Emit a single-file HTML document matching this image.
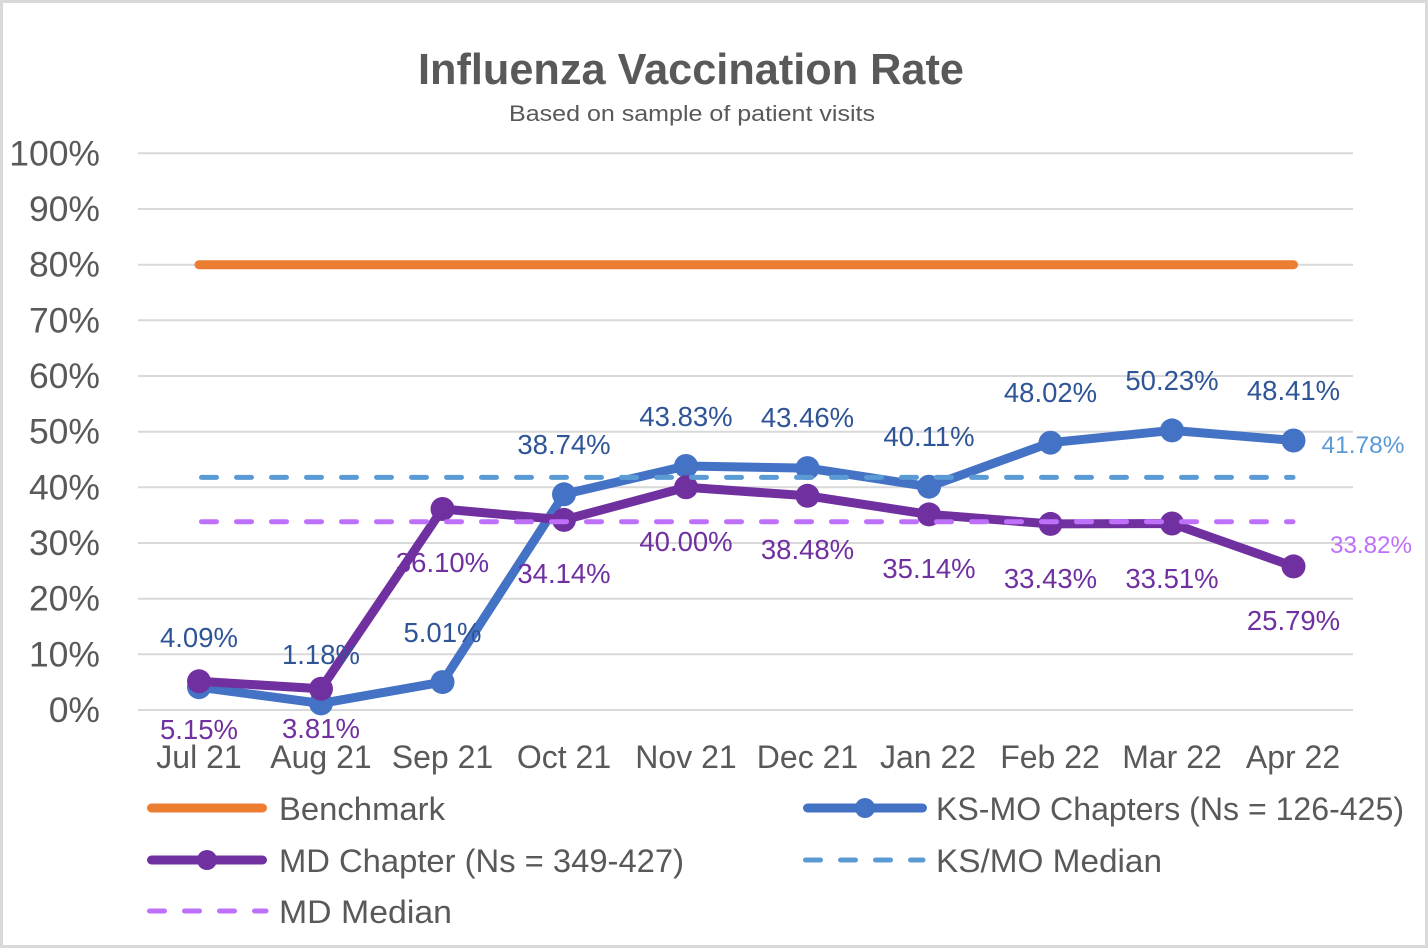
<!DOCTYPE html>
<html>
<head>
<meta charset="utf-8">
<style>
  html,body{margin:0;padding:0;background:#fff;}
  svg{display:block;}
  text{font-family:"Liberation Sans", Arial, sans-serif;}
</style>
</head>
<body>
<svg width="1428" height="948" viewBox="0 0 1428 948" xmlns="http://www.w3.org/2000/svg">
  <rect x="0" y="0" width="1428" height="948" fill="#ffffff"/>
  <rect x="1.5" y="1.5" width="1425" height="945" fill="none" stroke="#D9D9D9" stroke-width="3"/>

  <!-- Title -->
  <text x="691" y="84" text-anchor="middle" font-size="44" font-weight="bold" fill="#595959" textLength="546" lengthAdjust="spacingAndGlyphs">Influenza Vaccination Rate</text>
  <text x="692" y="121" text-anchor="middle" font-size="22" fill="#595959" textLength="366" lengthAdjust="spacingAndGlyphs">Based on sample of patient visits</text>

  <!-- Gridlines -->
  <g stroke="#D9D9D9" stroke-width="2">
    <line x1="138" y1="153.3" x2="1353" y2="153.3"/>
    <line x1="138" y1="209" x2="1353" y2="209"/>
    <line x1="138" y1="264.7" x2="1353" y2="264.7"/>
    <line x1="138" y1="320.3" x2="1353" y2="320.3"/>
    <line x1="138" y1="376" x2="1353" y2="376"/>
    <line x1="138" y1="431.7" x2="1353" y2="431.7"/>
    <line x1="138" y1="487.3" x2="1353" y2="487.3"/>
    <line x1="138" y1="543" x2="1353" y2="543"/>
    <line x1="138" y1="598.7" x2="1353" y2="598.7"/>
    <line x1="138" y1="654.3" x2="1353" y2="654.3"/>
    <line x1="138" y1="710" x2="1353" y2="710"/>
  </g>

  <!-- Y tick labels -->
  <g font-size="35.5" fill="#595959" text-anchor="end">
    <text x="100" y="165.3">100%</text>
    <text x="100" y="221">90%</text>
    <text x="100" y="276.7">80%</text>
    <text x="100" y="332.3">70%</text>
    <text x="100" y="388">60%</text>
    <text x="100" y="443.7">50%</text>
    <text x="100" y="499.3">40%</text>
    <text x="100" y="555">30%</text>
    <text x="100" y="610.7">20%</text>
    <text x="100" y="666.3">10%</text>
    <text x="100" y="722">0%</text>
  </g>

  <!-- X labels -->
  <g font-size="32" fill="#595959" text-anchor="middle">
    <text x="199" y="768">Jul 21</text>
    <text x="321" y="768">Aug 21</text>
    <text x="442.5" y="768">Sep 21</text>
    <text x="564" y="768">Oct 21</text>
    <text x="686" y="768">Nov 21</text>
    <text x="807.5" y="768">Dec 21</text>
    <text x="928" y="768">Jan 22</text>
    <text x="1050" y="768">Feb 22</text>
    <text x="1172" y="768">Mar 22</text>
    <text x="1293" y="768">Apr 22</text>
  </g>

  <!-- Benchmark -->
  <line x1="199" y1="264.7" x2="1293.5" y2="264.7" stroke="#ED7D31" stroke-width="9" stroke-linecap="round"/>

  <!-- KS-MO series -->
  <polyline fill="none" stroke="#4472C4" stroke-width="9" stroke-linejoin="round" stroke-linecap="round"
    points="199,687.2 321,703.4 442.5,682.1 564,494.3 686,466 807.5,468.1 929,486.7 1050.5,442.7 1172,430.4 1293.5,440.5"/>
  <g fill="#4472C4">
    <circle cx="199" cy="687.2" r="12"/>
    <circle cx="321" cy="703.4" r="12"/>
    <circle cx="442.5" cy="682.1" r="12"/>
    <circle cx="564" cy="494.3" r="12"/>
    <circle cx="686" cy="466" r="12"/>
    <circle cx="807.5" cy="468.1" r="12"/>
    <circle cx="929" cy="486.7" r="12"/>
    <circle cx="1050.5" cy="442.7" r="12"/>
    <circle cx="1172" cy="430.4" r="12"/>
    <circle cx="1293.5" cy="440.5" r="12"/>
  </g>

  <!-- MD series -->
  <polyline fill="none" stroke="#7030A0" stroke-width="9" stroke-linejoin="round" stroke-linecap="round"
    points="199,681.3 321,688.8 442.5,509 564,519.9 686,487.3 807.5,495.8 929,514.4 1050.5,523.9 1172,523.5 1293.5,566.4"/>
  <g fill="#7030A0">
    <circle cx="199" cy="681.3" r="12"/>
    <circle cx="321" cy="688.8" r="12"/>
    <circle cx="442.5" cy="509" r="12"/>
    <circle cx="564" cy="519.9" r="12"/>
    <circle cx="686" cy="487.3" r="12"/>
    <circle cx="807.5" cy="495.8" r="12"/>
    <circle cx="929" cy="514.4" r="12"/>
    <circle cx="1050.5" cy="523.9" r="12"/>
    <circle cx="1172" cy="523.5" r="12"/>
    <circle cx="1293.5" cy="566.4" r="12"/>
  </g>

  <!-- Medians -->
  <line x1="201.5" y1="477.4" x2="1293" y2="477.4" stroke="#5B9BD5" stroke-width="5" stroke-linecap="round" stroke-dasharray="15 20"/>
  <line x1="201.5" y1="521.7" x2="1293" y2="521.7" stroke="#BF70FA" stroke-width="5" stroke-linecap="round" stroke-dasharray="15 20"/>

  <!-- KS labels -->
  <g font-size="27.5" fill="#2F5597" text-anchor="middle">
    <text x="199" y="647">4.09%</text>
    <text x="321" y="664">1.18%</text>
    <text x="442.5" y="642">5.01%</text>
    <text x="564" y="454">38.74%</text>
    <text x="686" y="426">43.83%</text>
    <text x="807.5" y="427">43.46%</text>
    <text x="929" y="446">40.11%</text>
    <text x="1050.5" y="402">48.02%</text>
    <text x="1172" y="390">50.23%</text>
    <text x="1293.5" y="400">48.41%</text>
  </g>

  <!-- MD labels -->
  <g font-size="27.5" fill="#7030A0" text-anchor="middle">
    <text x="199" y="739">5.15%</text>
    <text x="321" y="738">3.81%</text>
    <text x="442.5" y="572">36.10%</text>
    <text x="564" y="583">34.14%</text>
    <text x="686" y="551">40.00%</text>
    <text x="807.5" y="559">38.48%</text>
    <text x="929" y="578">35.14%</text>
    <text x="1050.5" y="588">33.43%</text>
    <text x="1172" y="588">33.51%</text>
    <text x="1293.5" y="630">25.79%</text>
  </g>

  <!-- Median labels -->
  <text x="1363" y="453" font-size="24" fill="#5B9BD5" text-anchor="middle" textLength="83" lengthAdjust="spacingAndGlyphs">41.78%</text>
  <text x="1371" y="553" font-size="24" fill="#BF70FA" text-anchor="middle" textLength="82" lengthAdjust="spacingAndGlyphs">33.82%</text>

  <!-- Legend -->
  <line x1="151.5" y1="808" x2="262.5" y2="808" stroke="#ED7D31" stroke-width="9" stroke-linecap="round"/>
  <text x="279" y="820" font-size="32.5" fill="#595959" textLength="166" lengthAdjust="spacingAndGlyphs">Benchmark</text>

  <line x1="807.5" y1="808" x2="922.5" y2="808" stroke="#4472C4" stroke-width="9" stroke-linecap="round"/>
  <circle cx="865" cy="808" r="10" fill="#4472C4"/>
  <text x="936" y="820" font-size="32.5" fill="#595959" textLength="468" lengthAdjust="spacingAndGlyphs">KS-MO Chapters (Ns = 126-425)</text>

  <line x1="151.5" y1="860" x2="262.5" y2="860" stroke="#7030A0" stroke-width="9" stroke-linecap="round"/>
  <circle cx="207" cy="860" r="10" fill="#7030A0"/>
  <text x="279" y="872" font-size="32.5" fill="#595959" textLength="405" lengthAdjust="spacingAndGlyphs">MD Chapter (Ns = 349-427)</text>

  <line x1="805.5" y1="860" x2="923" y2="860" stroke="#5B9BD5" stroke-width="5" stroke-linecap="round" stroke-dasharray="15 20"/>
  <text x="936" y="872" font-size="32.5" fill="#595959" textLength="226" lengthAdjust="spacingAndGlyphs">KS/MO Median</text>

  <line x1="149.5" y1="911" x2="266" y2="911" stroke="#BF70FA" stroke-width="5" stroke-linecap="round" stroke-dasharray="15 20"/>
  <text x="279" y="923" font-size="32.5" fill="#595959" textLength="173" lengthAdjust="spacingAndGlyphs">MD Median</text>
</svg>
</body>
</html>
